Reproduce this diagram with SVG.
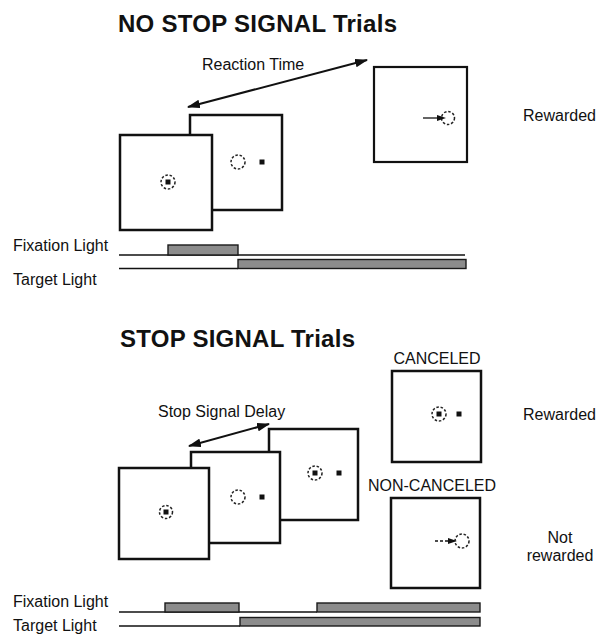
<svg xmlns="http://www.w3.org/2000/svg" width="598" height="641" viewBox="0 0 598 641">
<style>
text{font-family:"Liberation Sans",Arial,sans-serif;fill:#111}
.title{font-size:24px;font-weight:bold}
.lbl{font-size:16px}
.box{fill:#fff;stroke:#111;stroke-width:2.5}
.fc{fill:none;stroke:#222;stroke-width:1.5;stroke-dasharray:2.5 1.8}
.dot{fill:#111}
.base{stroke:#111;stroke-width:1.5;fill:none}
.bar{fill:#8c8c8c;stroke:#1a1a1a;stroke-width:1.4}
.arr{stroke:#111;stroke-width:2;fill:none;marker-start:url(#ah);marker-end:url(#ah)}
</style>
<defs>
<marker id="ah" viewBox="0 0 12 8" refX="11" refY="4" markerWidth="13" markerHeight="9" markerUnits="userSpaceOnUse" orient="auto-start-reverse">
<path d="M0,0 L12,4 L0,8 Z" fill="#111"/>
</marker>
</defs>
<rect width="598" height="641" fill="#fff"/>

<g id="title-top"><text class="title" x="118" y="32" textLength="279">NO STOP SIGNAL Trials</text></g>
<g id="label-rt"><text class="lbl" x="202" y="70">Reaction Time</text></g>

<g id="top-screen-target">
<rect class="box" x="190" y="115" width="92" height="95"/>
<circle class="fc" cx="238" cy="162" r="7"/>
<rect class="dot" x="259.5" y="159.5" width="5" height="5"/>
</g>
<g id="top-screen-fixation">
<rect class="box" x="120" y="135" width="92" height="95"/>
<circle class="fc" cx="168" cy="182" r="7"/>
<rect class="dot" x="165.5" y="179.5" width="5" height="5"/>
</g>
<g id="top-screen-saccade">
<rect class="box" x="374" y="67" width="93" height="95" style="stroke-width:2.2"/>
<circle class="fc" cx="448" cy="118" r="6.5"/>
<line x1="423" y1="118" x2="440" y2="118" stroke="#111" stroke-width="1.3"/>
<path d="M437,115 L446,118 L437,121 Z" fill="#111"/>
</g>
<g id="top-rewarded"><text class="lbl" x="523" y="121">Rewarded</text></g>

<g id="top-timeline">
<text class="lbl" x="13" y="251">Fixation Light</text>
<text class="lbl" x="13" y="285">Target Light</text>
<line class="base" x1="119" y1="255" x2="465" y2="255"/>
<rect class="bar" x="168" y="245" width="70" height="10"/>
<line class="base" x1="119" y1="268.5" x2="238" y2="268.5"/>
<rect class="bar" x="238" y="259.5" width="228" height="9"/>
</g>

<g id="title-bottom"><text class="title" x="120" y="347" textLength="235">STOP SIGNAL Trials</text></g>
<g id="label-ssd"><text class="lbl" x="158" y="417">Stop Signal Delay</text></g>

<g id="bot-screen-stop">
<rect class="box" x="269" y="429" width="89" height="91"/>
<circle class="fc" cx="315" cy="473" r="7"/>
<rect class="dot" x="312.5" y="470.5" width="5" height="5"/>
<rect class="dot" x="336.5" y="470.5" width="5" height="5"/>
</g>
<g id="bot-screen-target">
<rect class="box" x="191" y="452" width="89" height="91"/>
<circle class="fc" cx="238" cy="497" r="7"/>
<rect class="dot" x="259.5" y="494.5" width="5" height="5"/>
</g>
<g id="bot-screen-fixation">
<rect class="box" x="119" y="468" width="90" height="91"/>
<circle class="fc" cx="166" cy="512" r="6.5"/>
<rect class="dot" x="163.5" y="509.5" width="5" height="5"/>
</g>

<g id="canceled">
<text class="lbl" x="437" y="364" text-anchor="middle">CANCELED</text>
<rect class="box" x="392" y="371" width="89" height="91"/>
<circle class="fc" cx="439" cy="414" r="7"/>
<rect class="dot" x="436.5" y="411.5" width="5" height="5"/>
<rect class="dot" x="456.5" y="411.5" width="5" height="5"/>
</g>
<g id="bot-rewarded"><text class="lbl" x="523" y="420">Rewarded</text></g>

<g id="non-canceled">
<text class="lbl" x="432" y="491" text-anchor="middle">NON-CANCELED</text>
<rect class="box" x="391" y="498" width="89" height="90"/>
<circle class="fc" cx="462" cy="541" r="7"/>
<line x1="435" y1="541" x2="450" y2="541" stroke="#111" stroke-width="1.5" stroke-dasharray="3 2"/>
<path d="M448,538 L457,541 L448,544 Z" fill="#111"/>
</g>
<g id="not-rewarded">
<text class="lbl" x="560" y="543" text-anchor="middle">Not</text>
<text class="lbl" x="560" y="561" text-anchor="middle">rewarded</text>
</g>

<g id="bot-timeline">
<text class="lbl" x="13" y="607">Fixation Light</text>
<text class="lbl" x="13" y="631">Target Light</text>
<line class="base" x1="119" y1="612" x2="317" y2="612"/>
<rect class="bar" x="165" y="603" width="74" height="9"/>
<rect class="bar" x="317" y="603" width="163" height="9"/>
<line class="base" x1="119" y1="626" x2="240" y2="626"/>
<rect class="bar" x="240" y="617.5" width="240" height="8.5"/>
</g>

<g id="connectors">
<line class="arr" x1="188" y1="107" x2="367" y2="60"/>
<line class="arr" x1="189" y1="446" x2="269" y2="424"/>
</g>
</svg>
